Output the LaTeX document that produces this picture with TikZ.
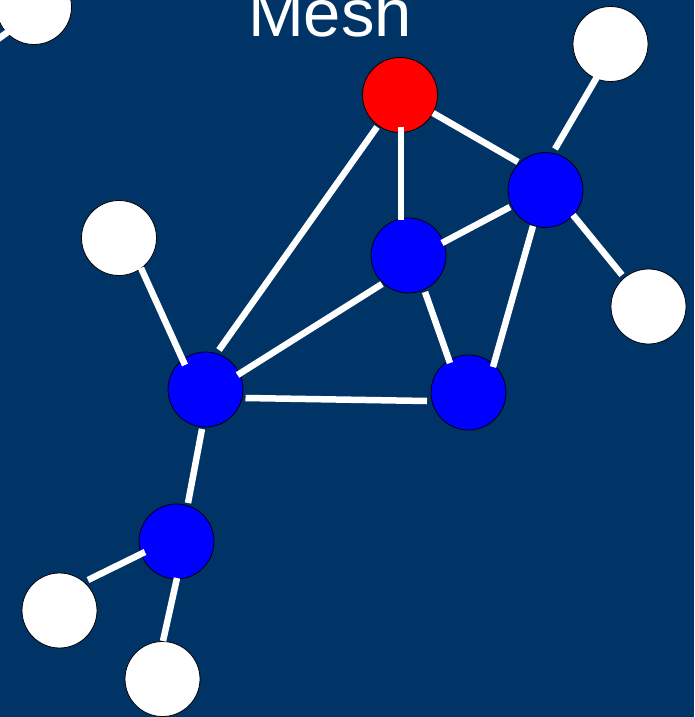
\documentclass[tikz,border=0pt]{standalone}
\usepackage{fontspec}
\setmainfont{Liberation Sans}
\usetikzlibrary{calc}
\definecolor{bgblue}{RGB}{0,51,102}
\definecolor{nodeblue}{RGB}{0,0,255}
\definecolor{nodered}{RGB}{255,0,0}
\tikzset{
  vert/.style={circle, draw=black, line width=0.8pt, minimum size=75pt, inner sep=0pt},
  bluev/.style={vert, fill=nodeblue},
  redv/.style={vert, fill=nodered},
  whitev/.style={vert, fill=white},
  link/.style={draw=white, line width=6.5pt},
}
\begin{document}
\begin{tikzpicture}[x=1pt,y=-1pt]
\fill[bgblue] (0,0) rectangle (694,717);
\useasboundingbox (0,0) rectangle (694,717);
\node[anchor=base, text=white, font=\fontsize{67}{67}\selectfont, inner sep=0pt] (title) at (330,37) {Mesh};
\node[whitev] (wtl) at (34,7) {};
\coordinate (off) at (-20,52);
\node[redv] (red) at (400,95) {};
\node[bluev] (btr) at (545.5,190) {};
\node[whitev] (wtr) at (610.5,44) {};
\node[whitev] (wr) at (648.5,306.5) {};
\node[bluev] (bm) at (408.5,255.5) {};
\node[whitev] (wl) at (119,238) {};
\node[bluev] (bl) at (205.5,389.5) {};
\node[bluev] (bbr) at (468.5,392.5) {};
\node[bluev] (bb) at (176.5,541.5) {};
\node[whitev] (wbl) at (59.5,610.5) {};
\node[whitev] (wb) at (162.5,679) {};
% connectors
\draw[link] ($(wtl)+(-22,22)$) -- (off);
\draw[link] ($(red)+(1,32)$) -- ($(bm)+(-7.5,-35.5)$);
\draw[link] ($(red)+(-23,32)$) -- ($(bl)+(13.5,-39.5)$);
\draw[link] ($(red)+(33,18)$) -- ($(btr)+(-27.5,-28)$);
\draw[link] ($(bm)+(33.5,-12.5)$) -- ($(btr)+(-35.5,17)$);
\draw[link] ($(btr)+(-12.5,36)$) -- ($(bbr)+(24.5,-25.5)$);
\draw[link] ($(bm)+(16.5,36.5)$) -- ($(bbr)+(-18.5,-29.5)$);
\draw[link] ($(bl)+(32,-14.5)$) -- ($(bm)+(-26.5,28.5)$);
\draw[link] ($(bl)+(40,8.5)$) -- ($(bbr)+(-41.5,8.5)$);
\draw[link] ($(wl)+(22,30)$) -- ($(bl)+(-20.5,-24.5)$);
\draw[link] ($(bl)+(-3.5,39.5)$) -- ($(bb)+(11.5,-38.5)$);
\draw[link] ($(bb)+(-31.5,10.5)$) -- ($(wbl)+(28.5,-30.5)$);
\draw[link] ($(bb)+(0.5,36.5)$) -- ($(wb)+(0.5,-38)$);
\draw[link] ($(btr)+(9.5,-41)$) -- ($(wtr)+(-13.5,33)$);
\draw[link] ($(btr)+(27.5,25)$) -- ($(wr)+(-26.5,-31.5)$);
\end{tikzpicture}
\end{document}
